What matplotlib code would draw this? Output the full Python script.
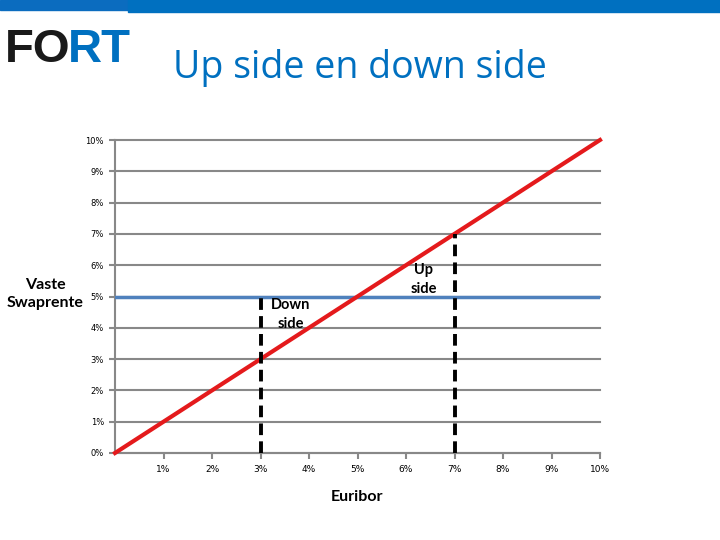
import matplotlib.pyplot as plt
from matplotlib.patches import Rectangle

# chart data
euribor = [0, 10]
variabel = [0, 10]
swaprente = [5, 5]
x_ticks = [1, 2, 3, 4, 5, 6, 7, 8, 9, 10]
y_ticks = [0, 1, 2, 3, 4, 5, 6, 7, 8, 9, 10]
down_x, down_top = 3, 5
up_x, up_top = 7, 7

fig = plt.figure(figsize=(7.2, 5.4), dpi=100)

# top banner
fig.patches.append(Rectangle((0, 1 - 10 / 540), 128 / 720, 10 / 540,
                             transform=fig.transFigure, color="#0b6cbf", zorder=0))
fig.patches.append(Rectangle((128 / 720, 1 - 12 / 540), 1, 12 / 540,
                             transform=fig.transFigure, color="#0070c0", zorder=0))

# logo + title
fig.text(5 / 720, 1 - 50 / 540, "FO", fontsize=34, fontweight="bold",
         family="Liberation Sans", color="#1a1a1a", va="center", ha="left")
fig.text(68 / 720, 1 - 50 / 540, "RT", fontsize=34, fontweight="bold",
         family="Liberation Sans", color="#0070c0", va="center", ha="left")
fig.text(360 / 720, 1 - 68 / 540, "Up side en down side", fontsize=27,
         family="Open Sans", color="#0070c0", va="center", ha="center")

ax = fig.add_axes([115 / 720, 87 / 540, 485 / 720, 313 / 540])
ax.set_xlim(0, 10)
ax.set_ylim(0, 10)

ax.set_yticks(y_ticks)
ax.set_yticklabels([f"{v}%" for v in y_ticks], fontsize=6)
ax.set_xticks(x_ticks)
ax.set_xticklabels([f"{v}%" for v in x_ticks], fontsize=6.5)
ax.tick_params(axis="y", length=4, width=1.5, color="#888888", pad=4)
ax.tick_params(axis="x", length=4, width=1.5, color="#888888", pad=5)

ax.grid(axis="y", color="#888888", linewidth=1.5)
for gl in ax.get_ygridlines():
    gl.set_clip_on(False)
ax.set_axisbelow(True)
for s in ["top", "right"]:
    ax.spines[s].set_visible(False)
for s in ["left", "bottom"]:
    ax.spines[s].set_color("#888888")
    ax.spines[s].set_linewidth(1.5)

ax.plot(euribor, swaprente, color="#4f81bd", linewidth=2.5, zorder=3)
ax.plot(euribor, variabel, color="#e41a1c", linewidth=3, zorder=4, clip_on=False)
ax.plot([down_x, down_x], [0, down_top], color="black", linewidth=2.8,
        dashes=(3, 1.6), zorder=5)
ax.plot([up_x, up_x], [0, up_top], color="black", linewidth=2.8,
        dashes=(3, 1.6), zorder=5)

ax.text(3.62, 4.42, "Down\nside", fontsize=10.5, fontweight="bold", ha="center",
        va="center", linespacing=1.45, family="Lato")
ax.text(6.37, 5.55, "Up\nside", fontsize=10.5, fontweight="bold", ha="center",
        va="center", linespacing=1.45, family="Lato")

fig.text(357 / 720, 1 - 497 / 540, "Euribor", fontsize=11.5, fontweight="bold",
         ha="center", va="center", family="Lato")
fig.text(45 / 720, 1 - 294 / 540, "Vaste\nSwaprente", fontsize=11.5,
         fontweight="bold", ha="center", va="center", linespacing=1.35,
         family="Lato")

fig.savefig("out.png", dpi=100)
